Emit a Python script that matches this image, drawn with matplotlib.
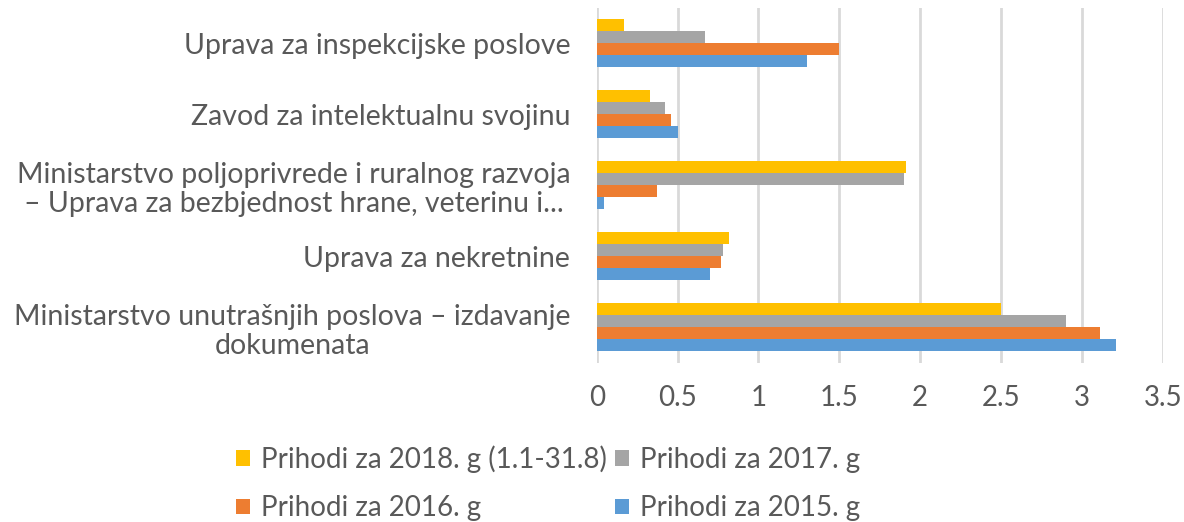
import numpy as np
import matplotlib.pyplot as plt

# categories, bottom to top (Excel order)
categories = [
    "Ministarstvo unutrašnjih poslova – izdavanje\ndokumenata",
    "Uprava za nekretnine",
    "Ministarstvo poljoprivrede i ruralnog razvoja\n– Uprava za bezbjednost hrane, veterinu i...",
    "Zavod za intelektualnu svojinu",
    "Uprava za inspekcijske poslove",
]
series_names = ["Prihodi za 2015. g", "Prihodi za 2016. g",
                "Prihodi za 2017. g", "Prihodi za 2018. g (1.1-31.8)"]
prihodi_2015 = [3.21, 0.70, 0.045, 0.50, 1.30]
prihodi_2016 = [3.11, 0.77, 0.37, 0.46, 1.50]
prihodi_2017 = [2.90, 0.78, 1.90, 0.42, 0.67]
prihodi_2018 = [2.50, 0.82, 1.91, 0.33, 0.17]
colors = ["#5B9BD5", "#ED7D31", "#A5A5A5", "#FFC000"]

plt.rcParams['font.family'] = ['Lato', 'DejaVu Sans']
text_color = "#595959"
fs = 20

fig = plt.figure(figsize=(11.84, 5.22), dpi=100)
ax = fig.add_axes([0.504, 0.305, 0.478, 0.68])

y = np.arange(len(categories))
h = 0.17
values = [prihodi_2015, prihodi_2016, prihodi_2017, prihodi_2018]
bars = []
for i, (vals, name, c) in enumerate(zip(values, series_names, colors)):
    b = ax.barh(y + (i - 1.5) * h, vals, height=h, color=c, label=name, zorder=3)
    bars.append(b)

ax.set_xlim(0, 3.5)
ax.set_ylim(-0.5, len(categories) - 0.5)
ax.set_xticks(np.arange(0, 3.51, 0.5))
ax.set_xticklabels(["0", "0.5", "1", "1.5", "2", "2.5", "3", "3.5"])
ax.set_yticks(y)
ax.set_yticklabels(categories)
for t in ax.get_yticklabels():
    t.set_multialignment('center')
    t.set_linespacing(1.15)
ax.tick_params(axis='y', length=0, pad=19, labelsize=20.5, labelcolor=text_color)
ax.tick_params(axis='x', length=0, pad=16, labelsize=fs, labelcolor=text_color)
for s in ax.spines.values():
    s.set_visible(False)
ax.grid(axis='x', color="#D9D9D9", linewidth=2, zorder=0)

# legend: 2018, 2017 / 2016, 2015
leg = fig.legend([bars[3], bars[1], bars[2], bars[0]],
                 [series_names[3], series_names[1], series_names[2], series_names[0]],
                 ncol=2, loc='center', bbox_to_anchor=(0.463, 0.074),
                 frameon=False, fontsize=fs, handlelength=0.5, handleheight=0.5,
                 handletextpad=0.4, columnspacing=0.3, labelspacing=0.8)
for t in leg.get_texts():
    t.set_color(text_color)

plt.savefig("out.png", dpi=100)
